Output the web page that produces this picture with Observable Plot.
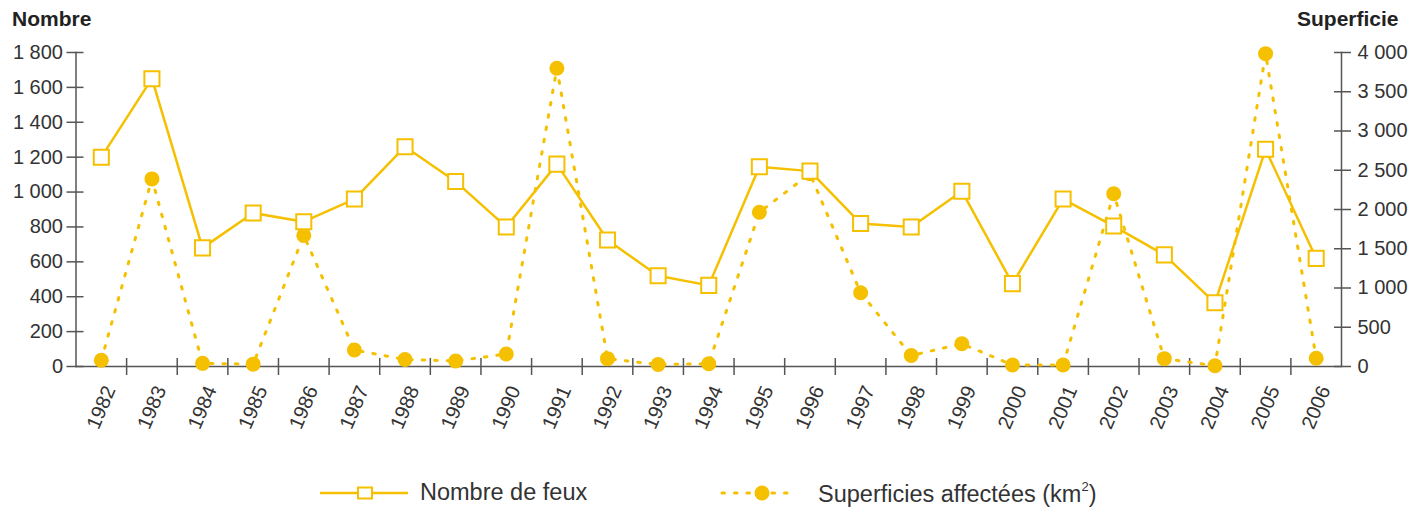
<!DOCTYPE html>
<html><head><meta charset="utf-8">
<script src="https://cdn.jsdelivr.net/npm/d3@7"></script>
<script src="https://cdn.jsdelivr.net/npm/@observablehq/plot@0.6"></script>
<style>
body{margin:0;background:#fff;font-family:"Liberation Sans",Arial,sans-serif;}
#wrap{position:relative;width:1411px;height:508px;overflow:hidden;background:#fff;}
#chart{position:absolute;left:0;top:0;width:1427px;}
#chart svg{max-width:none !important;}
.ttl{position:absolute;top:7px;font-weight:bold;font-size:21px;color:#222;white-space:nowrap;}
.lg{position:absolute;font-size:23.5px;color:#333;white-space:nowrap;}
.sw{position:absolute;}
</style></head>
<body>
<div id="wrap">
  <div id="chart"></div>
  <div class="ttl" style="left:12px">Nombre</div>
  <div class="ttl" style="left:1297px">Superficie</div>
  <svg class="sw" style="left:318px;top:481px" width="92" height="24"><line x1="2" y1="12" x2="90" y2="12" stroke="#f5c000" stroke-width="2.5"/><rect x="40" y="6.5" width="14" height="11" fill="#fff" stroke="#f5c000" stroke-width="2"/></svg>
  <div class="lg" style="left:420px;top:479px">Nombre de feux</div>
  <svg class="sw" style="left:718px;top:481px" width="80" height="24"><line x1="4" y1="12" x2="78" y2="12" stroke="#f5c000" stroke-width="3" stroke-dasharray="2.5 10" stroke-linecap="round"/><circle cx="44" cy="12" r="7.5" fill="#f5c000"/></svg>
  <div class="lg" style="left:818px;top:479px">Superficies affectées (km<sup style="font-size:13px;vertical-align:11px">2</sup>)</div>
</div>
<script>
const years = [1982,1983,1984,1985,1986,1987,1988,1989,1990,1991,1992,1993,1994,1995,1996,1997,1998,1999,2000,2001,2002,2003,2004,2005,2006];
const nombreFeux = [1200,1650,680,880,830,960,1260,1060,800,1160,725,520,465,1145,1120,820,800,1005,475,960,805,640,365,1245,620];
const superficies = [80,2390,40,30,1670,210,90,70,160,3800,100,25,35,1965,2455,940,140,290,20,20,2200,100,10,3985,105];
const leftTicks = [0,200,400,600,800,1000,1200,1400,1600,1800];
const rightTicks = [0,500,1000,1500,2000,2500,3000,3500,4000];

const leftMax = 1800, rightMax = 4000;
const k = leftMax / rightMax;
const fr = d3.formatLocale({decimal: ",", thousands: "\u00a0", grouping: [3], currency: ["", ""]}).format(",");

const yellow = "#f5c000";
const axisColor = "#555";
const W = 1427, H = 450, ML = 75.5, MR = 86;
const step = (W - ML - MR) / years.length;

const dataN = years.map((y, i) => ({year: y, v: nombreFeux[i]}));
const dataS = years.map((y, i) => ({year: y, v: superficies[i] * k}));

const chart = Plot.plot({
  width: W, height: H,
  marginLeft: ML, marginRight: MR, marginTop: 52, marginBottom: H - 366,
  style: {fontFamily: "'Liberation Sans', Arial, sans-serif", fontSize: "20px", color: "#333", background: "transparent", maxWidth: "none"},
  x: {type: "point", domain: years, padding: 0.5, round: false, axis: null},
  y: {domain: [0, leftMax], axis: null},
  marks: [
    Plot.ruleY([0], {stroke: axisColor, strokeWidth: 1.5}),
    Plot.frame({anchor: "left", stroke: axisColor, strokeWidth: 1.5}),
    Plot.frame({anchor: "right", stroke: axisColor, strokeWidth: 1.5}),
    // left axis
    Plot.axisY({anchor: "left", ticks: leftTicks, tickSize: 0, tickPadding: 13, tickFormat: fr, label: null, fill: "#333"}),
    Plot.axisY({anchor: "left", ticks: leftTicks, tickSize: 17, dx: 8, text: null, label: null, stroke: axisColor, strokeWidth: 1.5}),
    // right axis
    Plot.axisY({anchor: "right", ticks: rightTicks.map(v => v * k), tickSize: 0, tickPadding: 16, tickFormat: d => fr(Math.round(d / k)), label: null, fill: "#333"}),
    Plot.axisY({anchor: "right", ticks: rightTicks.map(v => v * k), tickSize: 17, dx: -8, text: null, label: null, stroke: axisColor, strokeWidth: 1.5}),
    // x axis labels
    Plot.axisX({ticks: years, tickSize: 0, tickPadding: 41, tickRotate: -67, textAnchor: "middle", lineAnchor: "middle", tickFormat: d => String(d), label: null, fill: "#333", fontSize: 20}),
    // x ticks between categories
    Plot.axisX({ticks: years.slice(1), tickSize: 17, dy: -8, dx: -step / 2, text: null, label: null, stroke: axisColor, strokeWidth: 1.5}),
    // series
    Plot.line(dataS, {x: "year", y: "v", stroke: yellow, strokeWidth: 3, strokeDasharray: "2.5 10", strokeLinecap: "round"}),
    Plot.dot(dataS, {x: "year", y: "v", r: 7.5, fill: yellow, stroke: null}),
    Plot.line(dataN, {x: "year", y: "v", stroke: yellow, strokeWidth: 2.5}),
    Plot.dot(dataN, {x: "year", y: "v", symbol: "square", r: 8.5, fill: "#fff", stroke: yellow, strokeWidth: 2})
  ]
});
document.getElementById("chart").append(chart);
</script>
</body></html>
